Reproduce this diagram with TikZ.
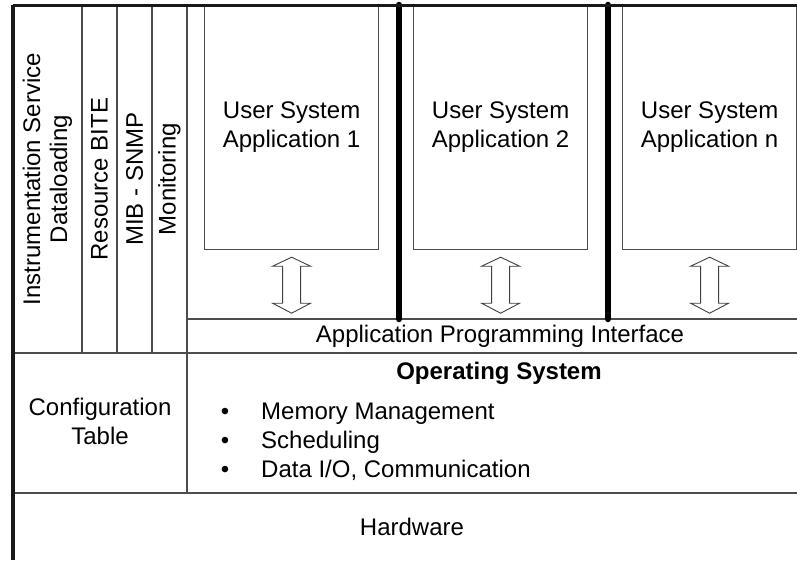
\documentclass[tikz,border=0pt]{standalone}
\usepackage{fontspec}
\setmainfont{Liberation Sans}
\usetikzlibrary{calc}
\begin{document}
\begin{tikzpicture}[x=1pt,y=-1pt,
  lbl/.style={font=\fontsize{24}{27}\selectfont, inner sep=0pt, align=center},
  grid/.style={draw=black!70, line width=1.3pt},
  border/.style={draw=black!90, line width=3pt},
  appbox/.style={draw=black!70, line width=1.2pt, lbl, font=\fontsize{24}{29}\selectfont,
                 anchor=north west, minimum width=174pt, minimum height=244pt},
  divider/.style={draw=black, line width=6.5pt, line cap=round},
  hollow/.style={draw=black!75, line width=0.9pt, fill=white, line join=miter},
  dblarrow/.pic={\path[hollow] (0,0) -- (19,9) -- (9,9) -- (9,46) -- (19,46) -- (0,56)
                  -- (-19,46) -- (-9,46) -- (-9,9) -- (-19,9) -- cycle;}]
\useasboundingbox (0,0) rectangle (797,560);

% corner points of the layered structure
\coordinate (tl) at (13,5);
\coordinate (tr) at (797,5);
\coordinate (bl) at (13,560);
\coordinate (osl) at (13,353);
\coordinate (osr) at (797,353);
\coordinate (hwl) at (13,493);
\coordinate (hwr) at (797,493);
\coordinate (apil) at (187,319);
\coordinate (apir) at (797,319);
\coordinate (midt) at (187,5);
\coordinate (midb) at (187,493);

% layer and column lines
\draw[grid] (osl) -- (osr);
\draw[grid] (hwl) -- (hwr);
\draw[grid] (apil) -- (apir);
\draw[grid] (midt) -- (midb);
\foreach \cx in {82,117,152} \draw[grid] (\cx,5) -- (\cx,353);

% user application boxes
\node[appbox] (b1) at (204,5) {User System\\Application 1};
\node[appbox] (b2) at (413,5) {User System\\Application 2};
\node[appbox] (bn) at (622,5) {User System\\Application n};

% partitions between applications
\coordinate (d1t) at (399,5);
\coordinate (d2t) at (608,5);
\draw[divider] (d1t) -- (d1t |- apil);
\draw[divider] (d2t) -- (d2t |- apil);

% outer border
\draw[border] (tl) -- (tr);
\draw[border, line width=3.5pt] (tl) -- (bl);

% application <-> API arrows
\pic at ($(b1.south)+(0,7)$) {dblarrow};
\pic at ($(b2.south)+(0,7)$) {dblarrow};
\pic at ($(bn.south)+(0,7)$) {dblarrow};

% vertical service columns
\node[lbl, rotate=90] (svc) at (47.5,179) {Instrumentation Service\\Dataloading};
\node[lbl, rotate=90] (bite) at (99.5,179) {Resource BITE};
\node[lbl, rotate=90] (mib) at (134.5,179) {MIB - SNMP};
\node[lbl, rotate=90] (mon) at (169.5,179) {Monitoring};

% API row
\node[lbl] (api) at (500,336) {Application Programming Interface};

% operating system layer
\node[lbl, anchor=base, font=\fontsize{24}{27}\selectfont\bfseries] (os) at (499,379) {Operating System};
\node[lbl, anchor=base] (p1) at (225,419) {•};
\node[lbl, anchor=base] (p2) at (225,448) {•};
\node[lbl, anchor=base] (p3) at (225,477) {•};
\node[lbl, anchor=base west] (i1) at (261,419) {Memory Management};
\node[lbl, anchor=base west] (i2) at (261,448) {Scheduling};
\node[lbl, anchor=base west] (i3) at (261,477) {Data I/O, Communication};

% configuration table
\node[lbl, align=center, font=\fontsize{24}{29}\selectfont] (cfg) at (100,421) {Configuration\\Table};

% hardware layer
\node[lbl] (hw) at (412,527) {Hardware};
\end{tikzpicture}
\end{document}
